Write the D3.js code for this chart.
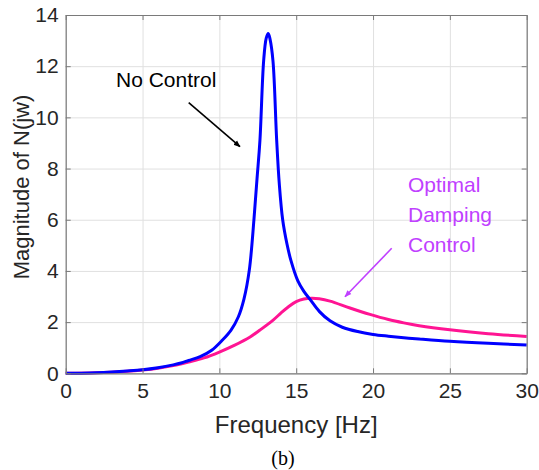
<!DOCTYPE html>
<html>
<head>
<meta charset="utf-8">
<script src="https://cdn.jsdelivr.net/npm/d3@7"></script>
<style>
  body { margin: 0; background: #fff; }
  svg { display: block; font-family: "Liberation Sans", Arial, sans-serif; }
</style>
</head>
<body>
<svg id="chart" width="539" height="470"></svg>
<script>
// frequency [Hz] / magnitude
const freqNoControl = [0, 1, 2, 3, 4, 5, 6, 7, 7.5, 8, 8.75, 9.5, 10.2, 10.75, 11.23, 11.6, 11.95, 12.25, 12.45, 12.64, 12.88, 13.05, 13.18, 13.3, 13.49, 13.73, 13.9, 14.12, 14.4, 14.66, 15.1, 15.5, 15.9, 16.5, 17.2, 18, 19, 20, 21, 22, 23, 25, 27.5, 30];
const magNoControl  = [0, 0.005, 0.02, 0.05, 0.09, 0.14, 0.22, 0.33, 0.4, 0.5, 0.65, 0.9, 1.3, 1.68, 2.2, 2.9, 4.04, 6.0, 7.6, 9.1, 12.2, 13.1, 13.28, 13.05, 12.2, 9.1, 7.4, 6.0, 5.05, 4.4, 3.62, 3.2, 2.89, 2.42, 2.05, 1.8, 1.63, 1.52, 1.45, 1.39, 1.34, 1.25, 1.17, 1.11];

const freqDamping = [0, 2, 4, 5, 6, 7, 8, 9, 10, 11, 12, 12.64, 13.5, 14, 14.5, 15, 15.5, 16, 16.5, 17.2, 18.5, 19.8, 21, 22, 23, 25, 27.5, 30];
const magDamping  = [0, 0.02, 0.08, 0.13, 0.2, 0.3, 0.44, 0.6, 0.83, 1.1, 1.42, 1.69, 2.08, 2.35, 2.6, 2.8, 2.9, 2.93, 2.91, 2.82, 2.55, 2.3, 2.1, 1.97, 1.86, 1.7, 1.55, 1.44];

const xTicks = [0, 5, 10, 15, 20, 25, 30];
const yTicks = [0, 2, 4, 6, 8, 10, 12, 14];

const svg = d3.select("#chart");
const margin = { top: 15, left: 65.7, right: 12.3, bottom: 96.7 };
const width = 539 - margin.left - margin.right;
const height = 470 - margin.top - margin.bottom;

const x = d3.scaleLinear().domain([0, 30]).range([0, width]);
const y = d3.scaleLinear().domain([0, 14]).range([height, 0]);

const g = svg.append("g").attr("transform", `translate(${margin.left},${margin.top})`);

// grid
g.append("g")
    .attr("transform", `translate(0,${height})`)
    .call(d3.axisBottom(x).tickValues(xTicks).tickSize(-height).tickFormat(""))
    .call(a => a.select(".domain").remove())
    .selectAll("line").attr("stroke", "#e0e0e0").attr("stroke-width", 1);
g.append("g")
    .call(d3.axisLeft(y).tickValues(yTicks).tickSize(-width).tickFormat(""))
    .call(a => a.select(".domain").remove())
    .selectAll("line").attr("stroke", "#e0e0e0").attr("stroke-width", 1);

// curves
const line = d3.line().x(d => x(d[0])).y(d => y(d[1])).curve(d3.curveCatmullRom.alpha(0.5));
g.append("path")
    .datum(freqDamping.map((f, i) => [f, magDamping[i]]))
    .attr("fill", "none").attr("stroke", "#ff1493").attr("stroke-width", 3)
    .attr("d", line);
g.append("path")
    .datum(freqNoControl.map((f, i) => [f, magNoControl[i]]))
    .attr("fill", "none").attr("stroke", "#0000ff").attr("stroke-width", 3)
    .attr("d", line);

// axes box with inward ticks
const axisColor = "#262626";
function styleAxis(a) {
    a.select(".domain").attr("stroke", "#7a7a7a").attr("stroke-width", 1.2);
    a.selectAll(".tick line").attr("stroke", "#7a7a7a");
    a.selectAll("text").attr("fill", axisColor).attr("font-size", "21px")
        .attr("font-family", "'Liberation Sans', Arial, sans-serif");
}
g.append("g")
    .attr("transform", `translate(0,${height})`)
    .call(d3.axisBottom(x).tickValues(xTicks).tickSizeInner(-5).tickSizeOuter(0).tickPadding(10))
    .call(styleAxis);
g.append("g")
    .call(d3.axisTop(x).tickValues(xTicks).tickSizeInner(-5).tickSizeOuter(0).tickFormat(""))
    .call(styleAxis);
g.append("g")
    .call(d3.axisLeft(y).tickValues(yTicks).tickSizeInner(-5).tickSizeOuter(0).tickPadding(7))
    .call(styleAxis);
g.append("g")
    .attr("transform", `translate(${width},0)`)
    .call(d3.axisRight(y).tickValues(yTicks).tickSizeInner(-5).tickSizeOuter(0).tickFormat(""))
    .call(styleAxis);

// axis titles
svg.append("text")
    .attr("x", margin.left + width / 2).attr("y", 433)
    .attr("text-anchor", "middle").attr("fill", axisColor)
    .attr("font-size", "24px").text("Frequency [Hz]");
svg.append("text")
    .attr("transform", "translate(29,187) rotate(-90)")
    .attr("text-anchor", "middle").attr("fill", axisColor)
    .attr("font-size", "22px").text("Magnitude of N(jw)");
svg.append("text")
    .attr("x", 283).attr("y", 465)
    .attr("text-anchor", "middle").attr("fill", "#000")
    .attr("font-family", "'Liberation Serif', 'Times New Roman', serif")
    .attr("font-size", "20px").text("(b)");

// annotations
const defs = svg.append("defs");
function arrowMarker(id, color) {
    defs.append("marker")
        .attr("id", id).attr("viewBox", "0 0 10 10")
        .attr("refX", 9).attr("refY", 5)
        .attr("markerWidth", 7).attr("markerHeight", 7)
        .attr("markerUnits", "userSpaceOnUse")
        .attr("orient", "auto")
        .append("path").attr("d", "M0,1 L10,5 L0,9 Z").attr("fill", color);
}
arrowMarker("arrowBlack", "#000");
arrowMarker("arrowPurple", "#c040ff");

svg.append("text")
    .attr("x", 116).attr("y", 87)
    .attr("fill", "#000").attr("font-size", "21px").text("No Control");
svg.append("line")
    .attr("x1", 188.7).attr("y1", 102.7).attr("x2", 240).attr("y2", 146.7)
    .attr("stroke", "#000").attr("stroke-width", 1.6)
    .attr("marker-end", "url(#arrowBlack)");

const optLines = ["Optimal", "Damping", "Control"];
svg.append("text")
    .attr("fill", "#c040ff").attr("font-size", "21px")
    .selectAll("tspan").data(optLines).join("tspan")
    .attr("x", 408).attr("y", (d, i) => 191.5 + i * 30.3)
    .text(d => d);
svg.append("line")
    .attr("x1", 391.7).attr("y1", 248.3).attr("x2", 345).attr("y2", 296.7)
    .attr("stroke", "#c040ff").attr("stroke-width", 1.6)
    .attr("marker-end", "url(#arrowPurple)");
</script>
</body>
</html>
